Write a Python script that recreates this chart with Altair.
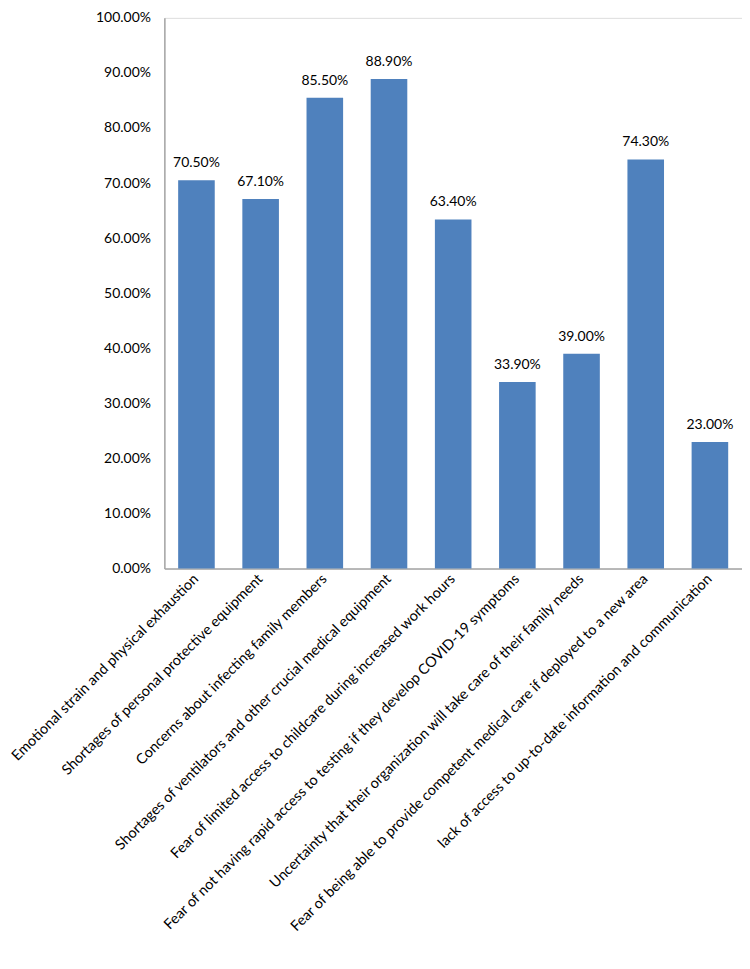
import altair as alt
import pandas as pd

categories = [
    "Emotional strain and physical exhaustion",
    "Shortages of personal protective equipment",
    "Concerns about infecting family members",
    "Shortages of ventilators  and other crucial medical equipment",
    "Fear of limited access to childcare during increased work hours",
    "Fear of not having rapid access to testing if they develop COVID-19 symptoms",
    "Uncertainty that their organization will take care of their family needs",
    "Fear of being able to provide competent medical care if deployed to a new area",
    "lack of access to up-to-date information and communication",
]
values = [0.705, 0.671, 0.855, 0.889, 0.634, 0.339, 0.390, 0.743, 0.230]
y_ticks = [0, 0.1, 0.2, 0.3, 0.4, 0.5, 0.6, 0.7, 0.8, 0.9, 1.0]

df = pd.DataFrame({"cat": categories, "val": values})

FONT = "Lato"

x = alt.X(
    "cat:N",
    sort=categories,
    title=None,
    scale=alt.Scale(paddingInner=0.43, paddingOuter=0.215),
    axis=alt.Axis(
        labelAngle=-45,
        labelAlign="right",
        labelBaseline="middle",
        labelLimit=0,
        labelFont=FONT,
        labelFontSize=14.5,
        labelColor="#000000",
        labelPadding=8,
        ticks=False,
        domainColor="#A6A6A6",
        domainWidth=1.5,
        labelOverlap=False,
    ),
)
y = alt.Y(
    "val:Q",
    title=None,
    scale=alt.Scale(domain=[0, 1], nice=False),
    axis=alt.Axis(
        values=y_ticks,
        format=".2%",
        grid=False,
        ticks=False,
        labelFont=FONT,
        labelFontSize=14,
        labelColor="#000000",
        labelPadding=14,
        domainColor="#A6A6A6",
        domainWidth=1.5,
    ),
)

bars = alt.Chart(df).mark_bar(color="#4F81BD").encode(x=x, y=y)
text = alt.Chart(df).mark_text(
    dy=-17, font=FONT, fontSize=14, color="#000000"
).encode(x=alt.X("cat:N", sort=categories), y="val:Q", text=alt.Text("val:Q", format=".2%"))

chart = (
    alt.layer(bars, text)
    .properties(width=580, height=553, padding={"left": 0, "top": 1, "right": 0, "bottom": 0})
    .configure_view(stroke=None)
    .configure(background="white")
)

chart.save("out.html", embed_options={"renderer": "svg", "actions": False})
